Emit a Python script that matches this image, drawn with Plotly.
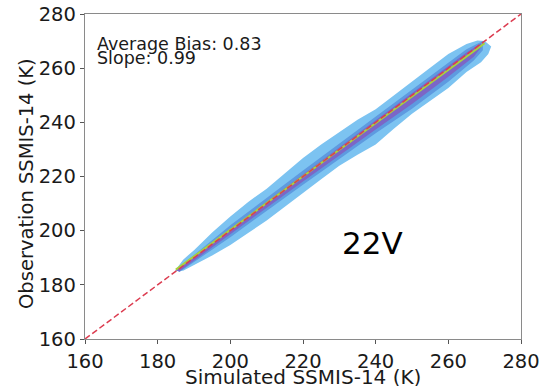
import plotly.graph_objects as go

# ---- data ----
# light-blue scatter cloud envelope (upper edge left->right, lower edge right->left)
cloud_upper_x = [184.8, 187, 190, 195, 200, 205, 210, 215, 220, 225, 230, 235, 240, 245, 250, 255, 260, 265, 268, 270, 271.8]
cloud_upper_y = [185.2, 189.3, 192.8, 199.3, 205.2, 210.7, 215.5, 221.3, 226.8, 231.8, 236.4, 241, 244.8, 250, 254.9, 260.2, 265.2, 268.9, 270.2, 270, 268]
cloud_lower_x = [271.8, 271, 269, 265, 260, 255, 250, 245, 240, 235, 230, 225, 220, 215, 210, 205, 200, 195, 190, 187, 184.8]
cloud_lower_y = [268, 265.2, 262.2, 258.6, 252.7, 248.1, 243.2, 237.6, 231.8, 228, 224, 219, 214, 209.1, 203.8, 199.2, 194.7, 190.8, 187.2, 185.2, 185.2]

# medium-density band
mid_upper_x = [185, 200, 220, 240, 255, 265, 269.5]
mid_upper_y = [185.5, 202, 222.2, 242, 257, 267, 270]
mid_lower_x = [269.5, 267, 260, 250, 240, 220, 200, 186]
mid_lower_y = [266.6, 262.8, 255, 245, 236, 217, 197.6, 184.7]

# dense core
core_upper_x = [185, 200, 220, 240, 255, 265, 269]
core_upper_y = [185.3, 200.7, 220.7, 240.6, 255.6, 265.8, 269.2]
core_lower_x = [269, 267, 260, 250, 240, 220, 200, 186]
core_lower_y = [267.6, 264.2, 256.8, 246.8, 237.4, 218.2, 198.7, 185]

# regression fit line and 1:1 line
fit_x = [185, 270]
fit_y = [185.6, 269.2]
one_x = [160, 280]
one_y = [160, 280]

tick_vals = [160, 180, 200, 220, 240, 260, 280]
x_title = "Simulated SSMIS-14 (K)"
y_title = "Observation SSMIS-14 (K)"
stats_text = ["Average Bias: 0.83", "Slope: 0.99"]
channel = "22V"

FONT = "DejaVu Sans"
INK = "#1a1a1a"

fig = go.Figure()

def band(ux, uy, lx, ly, color):
    fig.add_trace(go.Scatter(x=ux + lx, y=uy + ly, fill="toself", fillcolor=color,
                             mode="lines", line=dict(width=0), hoverinfo="skip",
                             showlegend=False))

band(cloud_upper_x, cloud_upper_y, cloud_lower_x, cloud_lower_y, "#7cc3f1")
band(mid_upper_x, mid_upper_y, mid_lower_x, mid_lower_y, "#5e9ae0")
band(core_upper_x, core_upper_y, core_lower_x, core_lower_y, "#7c66c6")

fig.add_trace(go.Scatter(x=fit_x, y=fit_y, mode="lines",
                         line=dict(color="#a8d43a", width=2), hoverinfo="skip", showlegend=False))
fig.add_trace(go.Scatter(x=one_x, y=one_y, mode="lines",
                         line=dict(color="#dc3c50", width=1.5, dash="6px,3px"),
                         hoverinfo="skip", showlegend=False))

axis_common = dict(range=[160, 280], tickvals=tick_vals, ticks="outside", ticklen=4,
                   tickcolor="#555", tickwidth=1, showgrid=False, zeroline=False,
                   showline=True, mirror=True, linecolor="#8a8a8a", linewidth=1.3,
                   automargin=False, ticklabeloverflow="allow",
                   tickfont=dict(family=FONT, size=19.5, color=INK))

fig.update_xaxes(**axis_common)
fig.update_yaxes(**axis_common)

# axis titles
fig.add_annotation(x=0.5, y=-0.118, xref="paper", yref="paper", xanchor="center", yanchor="middle",
                   text=x_title, showarrow=False, font=dict(family=FONT, size=20, color=INK))
fig.add_annotation(x=-0.133, y=0.477, xref="paper", yref="paper", xanchor="center", yanchor="middle",
                   text=y_title, textangle=-90, showarrow=False,
                   font=dict(family=FONT, size=19.5, color=INK))

fig.add_annotation(x=0.022, y=0.907, xref="paper", yref="paper", xanchor="left", yanchor="middle",
                   text=stats_text[0], showarrow=False,
                   font=dict(family=FONT, size=17.5, color=INK))
fig.add_annotation(x=0.022, y=0.866, xref="paper", yref="paper", xanchor="left", yanchor="middle",
                   text=stats_text[1], showarrow=False,
                   font=dict(family=FONT, size=17.5, color=INK))
fig.add_annotation(x=239, y=195.5, xref="x", yref="y", xanchor="center", yanchor="middle",
                   text=channel, showarrow=False,
                   font=dict(family=FONT, size=31, color="#000000"))

fig.update_layout(width=541, height=386, margin=dict(l=85, r=20, t=14, b=47),
                  paper_bgcolor="white", plot_bgcolor="white")

# remove the default 8px page margin so the figure fills the window exactly
fig.write_html("out.html", config={"displayModeBar": False},
               post_script="document.body.style.margin='0';"
                           "document.documentElement.style.overflow='hidden';"
                           "document.body.style.overflow='hidden';")
